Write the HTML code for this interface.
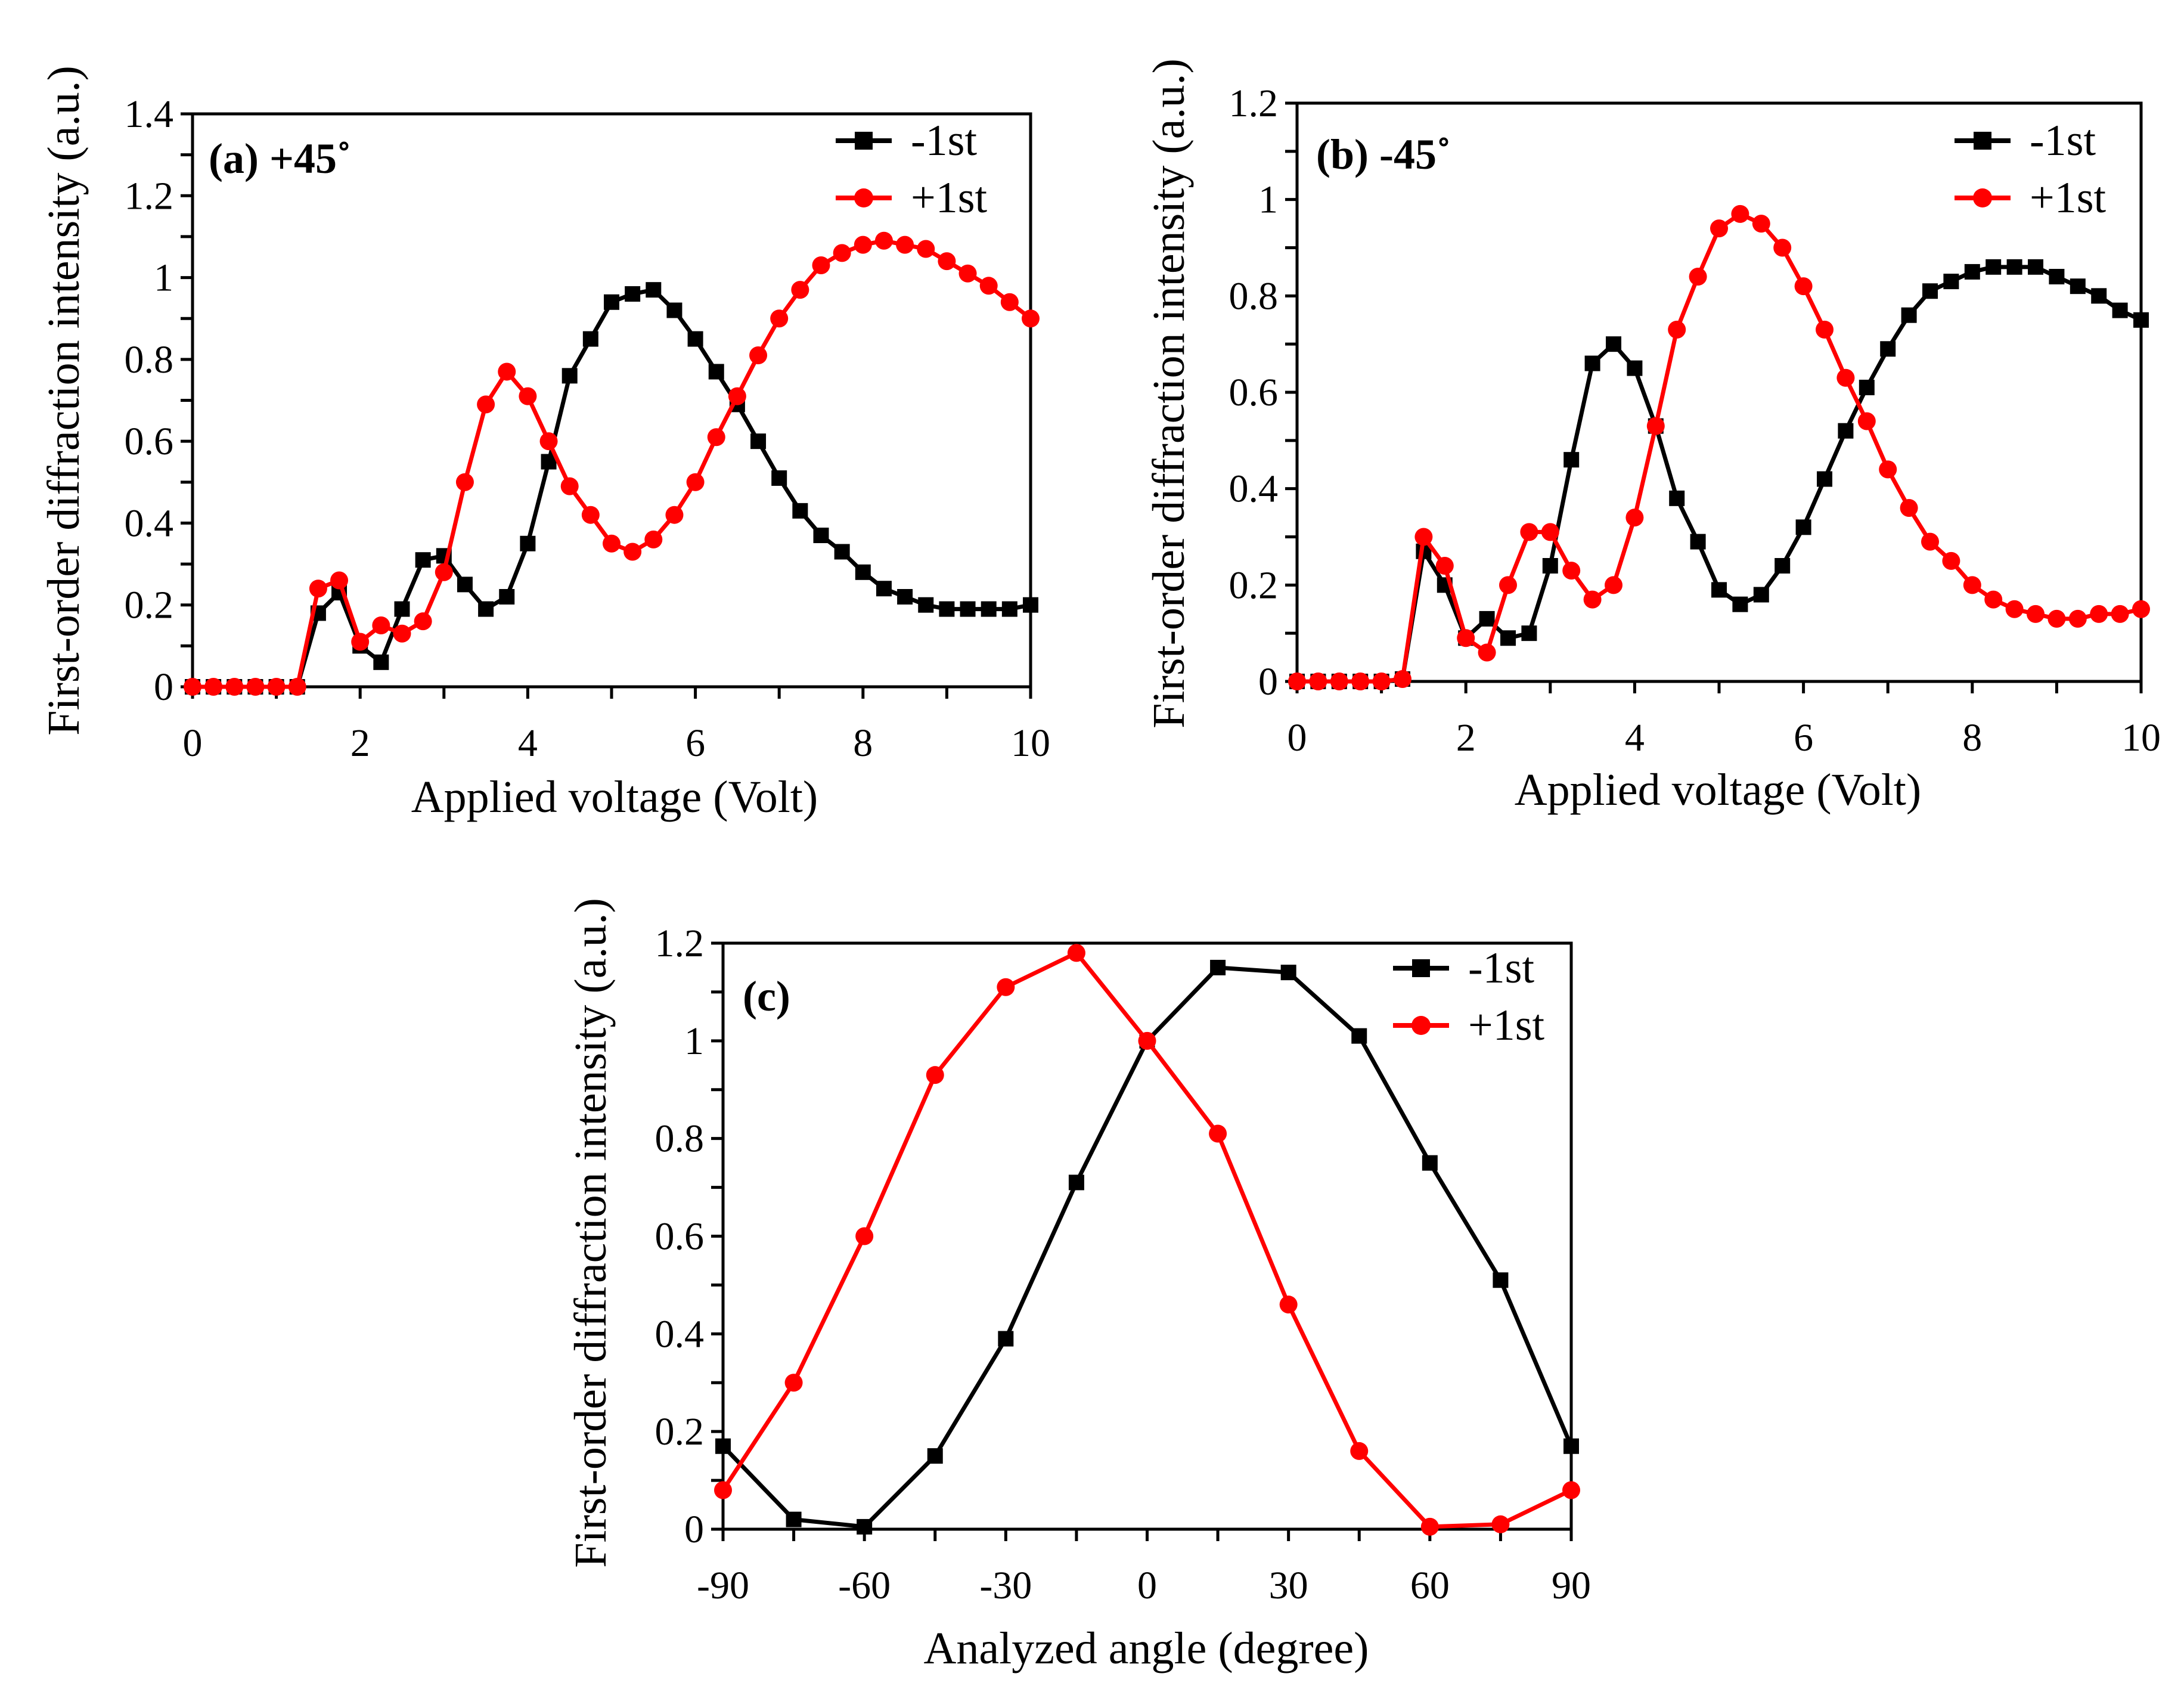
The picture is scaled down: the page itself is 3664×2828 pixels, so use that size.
<!DOCTYPE html>
<html><head><meta charset="utf-8">
<style>
html,body{margin:0;padding:0;background:#fff;}
svg{display:block;font-family:"Liberation Serif",serif;}
</style></head>
<body>
<svg id="fig" width="3664" height="2828" viewBox="0 0 3664 2828" xmlns="http://www.w3.org/2000/svg"></svg>
<script>
const voltages = [0,0.25,0.5,0.75,1,1.25,1.5,1.75,2,2.25,2.5,2.75,3,3.25,3.5,3.75,4,4.25,4.5,4.75,5,5.25,5.5,5.75,6,6.25,6.5,6.75,7,7.25,7.5,7.75,8,8.25,8.5,8.75,9,9.25,9.5,9.75,10];
const aMinus = [0,0,0,0,0,0,0.18,0.23,0.10,0.06,0.19,0.31,0.32,0.25,0.19,0.22,0.35,0.55,0.76,0.85,0.94,0.96,0.97,0.92,0.85,0.77,0.69,0.60,0.51,0.43,0.37,0.33,0.28,0.24,0.22,0.20,0.19,0.19,0.19,0.19,0.20];
const aPlus = [0,0,0,0,0,0,0.24,0.26,0.11,0.15,0.13,0.16,0.28,0.50,0.69,0.77,0.71,0.60,0.49,0.42,0.35,0.33,0.36,0.42,0.50,0.61,0.71,0.81,0.90,0.97,1.03,1.06,1.08,1.09,1.08,1.07,1.04,1.01,0.98,0.94,0.90];
const bMinus = [0,0,0,0,0,0.005,0.27,0.20,0.09,0.13,0.09,0.10,0.24,0.46,0.66,0.70,0.65,0.53,0.38,0.29,0.19,0.16,0.18,0.24,0.32,0.42,0.52,0.61,0.69,0.76,0.81,0.83,0.85,0.86,0.86,0.86,0.84,0.82,0.80,0.77,0.75];
const bPlus = [0,0,0,0,0,0.005,0.30,0.24,0.09,0.06,0.20,0.31,0.31,0.23,0.17,0.20,0.34,0.53,0.73,0.84,0.94,0.97,0.95,0.90,0.82,0.73,0.63,0.54,0.44,0.36,0.29,0.25,0.20,0.17,0.15,0.14,0.13,0.13,0.14,0.14,0.15];
const angles = [-90,-75,-60,-45,-30,-15,0,15,30,45,60,75,90];
const cMinus = [0.17,0.02,0.005,0.15,0.39,0.71,1.0,1.15,1.14,1.01,0.75,0.51,0.17];
const cPlus = [0.08,0.30,0.60,0.93,1.11,1.18,1.00,0.81,0.46,0.16,0.005,0.01,0.08];
const yTicksA = ["0","0.2","0.4","0.6","0.8","1","1.2","1.4"];
const yTicksB = ["0","0.2","0.4","0.6","0.8","1","1.2"];
const xTicksV = ["0","2","4","6","8","10"];
const xTicksC = ["-90","-60","-30","0","30","60","90"];

const NS="http://www.w3.org/2000/svg";
const svg=document.getElementById('fig');
function mk(tag,attrs,parent){const e=document.createElementNS(NS,tag);for(const k in attrs)e.setAttribute(k,attrs[k]);(parent||svg).appendChild(e);return e;}

function panel(p){
  const g=mk('g',{});
  
  
  const sx=v=>p.x0+(v-p.xmin)/(p.xmax-p.xmin)*(p.x1-p.x0);
  const sy=v=>p.y0-(v-p.ymin)/(p.ymax-p.ymin)*(p.y0-p.y1);
  const fr=mk('rect',{x:p.x0,y:p.y1,width:p.x1-p.x0,height:p.y0-p.y1,fill:'none',stroke:'#000','stroke-width':5},g);
  
  
  for(let v=p.ymin;v<=p.ymax+1e-9;v+=p.yminor){mk('line',{x1:p.x0-20,x2:p.x0,y1:sy(v),y2:sy(v),stroke:'#000','stroke-width':5},g);}
  p.yTicks.forEach(t=>{const v=parseFloat(t);const e=mk('text',{x:p.x0-32,y:sy(v)+22,'text-anchor':'end','font-size':66},g);e.textContent=t;
    
    });
  for(let v=p.xmin;v<=p.xmax+1e-9;v+=p.xminor){mk('line',{x1:sx(v),x2:sx(v),y1:p.y0,y2:p.y0+20,stroke:'#000','stroke-width':5},g);}
  p.xTicks.forEach(t=>{const v=parseFloat(t);const e=mk('text',{x:sx(v),y:p.y0+116,'text-anchor':'middle','font-size':66},g);e.textContent=t;
    
    });
  const xt=mk('text',{x:p.xtx,y:p.xty,'text-anchor':'middle','font-size':76},g);xt.textContent=p.xtitle;
  
  
  const yt=mk('text',{x:0,y:0,'text-anchor':'middle','font-size':76,transform:`translate(${p.ytx},${p.yty}) rotate(-90)`},g);yt.textContent='First-order diffraction intensity (a.u.)';
  
  
  const lb=mk('text',{x:p.lx,y:p.ly,'font-size':72,'font-weight':'bold'},g);lb.textContent=p.label;
  
  
  const series=[{d:p.minus,c:'#000',m:'sq',n:'-1st'},{d:p.plus,c:'#f00',m:'ci',n:'+1st'}];
  series.forEach((s,si)=>{
    const sg=mk('g',{},g);
    
    
    const pts=p.xs.map((x,i)=>sx(x)+','+sy(s.d[i])).join(' ');
    mk('polyline',{points:pts,fill:'none',stroke:s.c,'stroke-width':7,'stroke-linejoin':'round'},sg);
    p.xs.forEach((x,i)=>{
      let e;
      if(s.m==='sq')e=mk('rect',{x:sx(x)-13,y:sy(s.d[i])-13,width:26,height:26,fill:s.c},sg);
      else e=mk('circle',{cx:sx(x),cy:sy(s.d[i]),r:15,fill:s.c},sg);
      
      
    });
    const ly=p.legY+si*96;
    const le=mk('g',{},g);
    
    
    mk('line',{x1:p.legX,x2:p.legX+94,y1:ly,y2:ly,stroke:s.c,'stroke-width':8},le);
    if(s.m==='sq')mk('rect',{x:p.legX+47-15,y:ly-15,width:30,height:30,fill:s.c},le);
    else mk('circle',{cx:p.legX+47,cy:ly,r:16,fill:s.c},le);
    const t=mk('text',{x:p.legX+126,y:ly+24,'font-size':74},le);t.textContent=s.n;
  });
}
panel({id:'panel-a',x0:323,x1:1729,y0:1152,y1:191,xmin:0,xmax:10,ymin:0,ymax:1.4,xminor:1,yminor:0.1,yTicks:yTicksA,xTicks:xTicksV,xs:voltages,minus:aMinus,plus:aPlus,
  xtitle:'Applied voltage (Volt)',xtx:1031,xty:1362,ytx:132,yty:672,label:'(a) +45˚',lx:350,ly:290,legX:1402,legY:236});
panel({id:'panel-b',x0:2176,x1:3592,y0:1143,y1:173,xmin:0,xmax:10,ymin:0,ymax:1.2,xminor:1,yminor:0.1,yTicks:yTicksB,xTicks:xTicksV,xs:voltages,minus:bMinus,plus:bPlus,
  xtitle:'Applied voltage (Volt)',xtx:2882,xty:1350,ytx:1986,yty:660,label:'(b) -45˚',lx:2208,ly:283,legX:3279,legY:236});
panel({id:'panel-c',x0:1213,x1:2636,y0:2565,y1:1582,xmin:-90,xmax:90,ymin:0,ymax:1.2,xminor:15,yminor:0.1,yTicks:yTicksB,xTicks:xTicksC,xs:angles,minus:cMinus,plus:cPlus,
  xtitle:'Analyzed angle (degree)',xtx:1923,xty:2790,ytx:1016,yty:2068,label:'(c)',lx:1246,ly:1695,legX:2337,legY:1624});
</script>
</body></html>
